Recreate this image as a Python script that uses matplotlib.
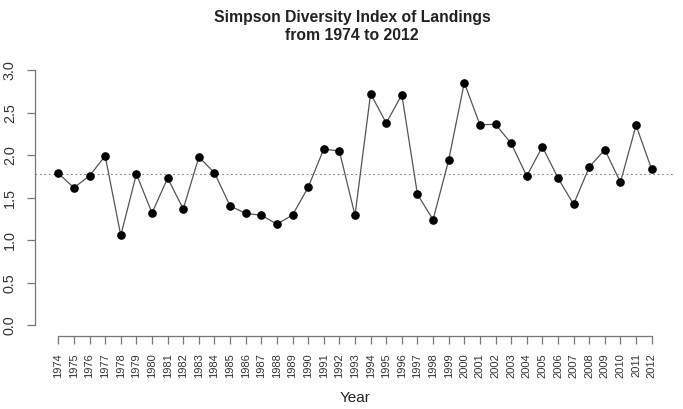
import matplotlib
matplotlib.use("Agg")
import matplotlib.pyplot as plt
import numpy as np

plt.rcParams['font.family'] = ['Liberation Sans', 'DejaVu Sans']

years = list(range(1974, 2013))
simpson = [1.786, 1.617, 1.758, 1.989, 1.057, 1.778, 1.320, 1.731, 1.367, 1.978,
           1.793, 1.402, 1.316, 1.293, 1.190, 1.296, 1.622, 2.072, 2.048, 1.293,
           2.722, 2.377, 2.710, 1.539, 1.241, 1.942, 2.851, 2.357, 2.362, 2.139,
           1.754, 2.099, 1.731, 1.422, 1.860, 2.064, 1.680, 2.350, 1.833]
mean_value = 1.775
y_ticks = [0.0, 0.5, 1.0, 1.5, 2.0, 2.5, 3.0]
y_ticklabels = ["0.0", "0.5", "1.0", "1.5", "2.0", "2.5", "3.0"]
title = "Simpson Diversity Index of Landings\nfrom 1974 to 2012"
xlabel = "Year"

W, H = 683, 409
fig = plt.figure(figsize=(W / 100, H / 100), dpi=100)
left, right, bottom, top = 34.6, 675.4, 335.6, 59.8
ax = fig.add_axes([left / W, 1 - bottom / H, (right - left) / W, (bottom - top) / H])

ax.plot(years, simpson, color='#555555', lw=0.9, marker='o', ms=5.2,
        mfc='black', mec='black', zorder=3)
ax.axhline(mean_value, color='#888888', lw=0.8, ls=(0, (1.5, 2.5)), zorder=1)

span = years[-1] - years[0]
ax.set_xlim(years[0] - 0.04 * span, years[-1] + 0.04 * span)
ax.set_ylim(-0.04 * 3, 3 + 0.04 * 3)

for s in ['top', 'right']:
    ax.spines[s].set_visible(False)
for s in ['left', 'bottom']:
    ax.spines[s].set_color('#777777')
    ax.spines[s].set_linewidth(0.9)
ax.spines['left'].set_bounds(0, 3)
ax.spines['bottom'].set_bounds(years[0], years[-1])

ax.set_yticks(y_ticks)
ax.set_yticklabels(y_ticklabels, rotation=90, va='center', fontsize=10.4, color='#333333')
ax.set_xticks(years)
ax.set_xticklabels([str(y) for y in years], rotation=90, fontsize=8, color='#333333')
ax.tick_params(axis='both', direction='out', length=5.8, width=0.9, color='#777777', pad=7)

fig.text(352 / W, 1 - 26.5 / H, title, ha='center', va='center', fontsize=11.3,
         fontweight='bold', color='#222222', linespacing=1.25)
fig.text(355 / W, 1 - 398 / H, xlabel, ha='center', va='center', fontsize=11, color='#222222')

fig.savefig("out.png", dpi=100)
